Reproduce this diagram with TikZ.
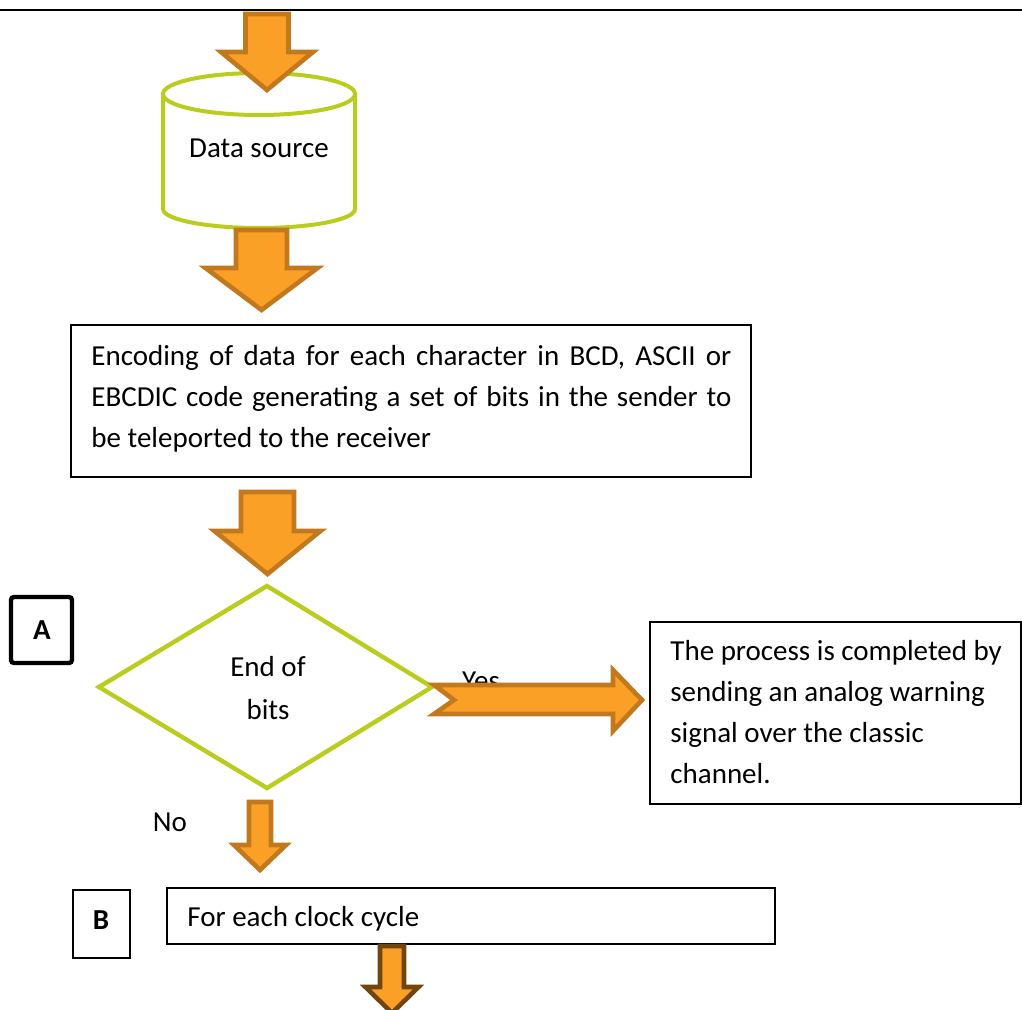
\documentclass[tikz,border=0pt]{standalone}
\usepackage{fontspec}
\setmainfont{Carlito}
\usepackage{xcolor}

\definecolor{arrowfill}{RGB}{250,160,38}
\definecolor{arrowline}{RGB}{194,120,28}
\definecolor{arrowdark}{RGB}{112,70,12}
\definecolor{limeline}{RGB}{186,204,30}

% block arrow pointing down: [border]{x}{top}{shaft half}{head half}{head y}{tip y}
\newcommand{\downblock}[7][arrowline]{%
  \draw[blockarrow, draw=#1] (#2-#4,#3) -- (#2+#4,#3) -- (#2+#4,#6) -- (#2+#5,#6)
    -- (#2,#7) -- (#2-#5,#6) -- (#2-#4,#6) -- cycle;}

\begin{document}
\begin{tikzpicture}[x=0.5pt,y=-0.5pt,
    every node/.style={font=\fontsize{14.5pt}{20.5pt}\selectfont, inner sep=0pt},
    blockarrow/.style={draw=arrowline, fill=arrowfill, line width=2.3pt, line join=miter},
    box/.style={draw=black, line width=0.55pt}]
    \useasboundingbox (0,0) rectangle (1022,1010);
    \draw[line width=0.7pt] (0,10) -- (1022,10); % page rule

    % Data source (cylinder)
    \draw[limeline, line width=2pt] (163,94) -- (163,209)
        arc[start angle=180, end angle=360, x radius=48pt, y radius=9.5pt] -- (355,94);
    \draw[limeline, line width=2pt] (259,94) ellipse[x radius=48pt, y radius=10.5pt];
    \node (data) at (259,148) {Data source};
    \downblock{267}{14}{21.5}{46}{52}{90}
    \downblock{261.5}{230}{25.5}{56}{268}{310}

    % Encoding step
    \draw[box] (71,325) rectangle (751,477);
    \node[anchor=west, align=left] (encode) at (91,399)
        {\makebox[320pt][s]{Encoding of data for each character in BCD, ASCII or}\\
         \makebox[320pt][s]{EBCDIC code generating a set of bits in the sender to}\\
         be teleported to the receiver};
    \downblock{267.5}{492}{26.5}{53}{531}{574}

    % Decision
    \draw[limeline, line width=2.2pt] (99,687) -- (267,586) -- (432,687) -- (267,788) -- cycle;
    \node[align=center] (decide) at (268,688) {End of\\[0.6pt]bits};
    \draw[line width=2.2pt, rounded corners=1.5pt] (11,597) rectangle (72,663);
    \node (labelA) at (42,630) {\bfseries A};

    % Yes branch
    \node (yes) at (481,681) {Yes};
    \draw[blockarrow] (434,685) -- (613,685) -- (613,670) -- (642,700) -- (613,731)
        -- (613,714) -- (434,714) -- (454,700) -- cycle;
    \draw[box] (650,622) rectangle (1021,804);
    \node[anchor=west, align=left] (done) at (670,712)
        {The process is completed by\\ sending an analog warning\\
         signal over the classic\\ channel.};

    % No branch
    \node (no) at (170,822) {No};
    \downblock{260}{802}{11}{26}{845}{870}
    \draw[box] (73,890) rectangle (130,958);
    \node (labelB) at (101,920) {\bfseries B};
    \draw[box] (167,888) rectangle (775,944);
    \node[anchor=west] (clock) at (187,919) {For each clock cycle};
    \downblock[arrowdark]{392}{946}{12}{26.5}{987}{1013}
\end{tikzpicture}
\end{document}
